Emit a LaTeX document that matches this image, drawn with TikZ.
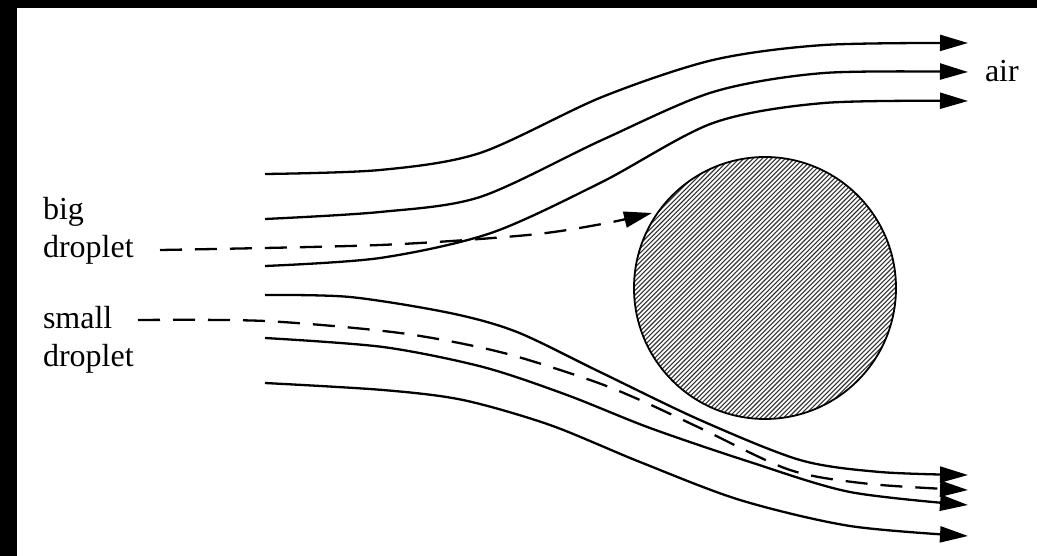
\documentclass[tikz,border=0pt]{standalone}
\usepackage{fontspec}
\setmainfont{Liberation Serif}
\usetikzlibrary{arrows.meta}
\begin{document}
\begin{tikzpicture}[x=1pt,y=-1pt,
  stream/.style={line width=2.3pt, line join=round, -{Triangle[length=28pt,width=16pt]}},
  droppath/.style={stream, dash pattern=on 22pt off 13pt},
  hatch/.style={line width=1.1pt, black!80},
  lbl/.style={font=\fontsize{32}{38}\selectfont, inner sep=0pt, outer sep=0pt, align=left, anchor=north west},
  txt/.style={font=\fontsize{32}{38}\selectfont, inner sep=0pt, outer sep=0pt, anchor=base west}]
\useasboundingbox (0,0) rectangle (1037,556);
\fill[black] (0,0) rectangle (1037,556);
\fill[white] (17,8) rectangle (1037,556);

% obstacle (hatched cylinder)
\begin{scope}
  \clip (765,288) circle[radius=131];
  \foreach \k in {0,...,118} \draw[hatch] ({372+\k*4.6},420) -- ++(264,-264);
\end{scope}
\node[circle, draw, line width=1.8pt, minimum size=262pt, inner sep=0pt] (obstacle) at (765,288) {};

% labels
\node[lbl] (big) at (43,197) {big\\droplet};
\node[lbl] (small) at (43,306) {small\\droplet};
\node[txt] (air) at (985,82) {air};

% upper streamlines
\draw[stream] plot[smooth] coordinates {(265,174) (380,170) (480,153) (602,97) (713,60) (824,45) (968,43)};
\draw[stream] plot[smooth] coordinates {(265,219) (380,212) (480,197) (602,140) (713,92) (824,73) (968,72)};
\draw[stream] plot[smooth] coordinates {(265,266) (380,258) (491,233) (602,182) (713,123) (824,103) (968,101)};

% lower streamlines
\draw[stream] plot[smooth] coordinates {(265,295) (350,297) (450,313) (517,332) (600,372) (700,420) (800,460) (880,472) (968,475)};
\draw[stream] plot[smooth] coordinates {(265,338) (383,347) (483,367) (567,395) (650,428) (750,462) (850,492) (968,505)};
\draw[stream] plot[smooth] coordinates {(265,383) (383,390) (463,400) (550,425) (640,462) (740,500) (850,526) (968,536)};

% droplet paths
\draw[droppath] plot[smooth] coordinates {(160,250) (380,245) (528,235) (602,224) (652,213)};
\draw[droppath] plot[smooth] coordinates {(138,320) (265,321) (400,333) (500,352) (590,380) (640,400) (700,428) (790,470) (870,484) (968,490)};
\end{tikzpicture}
\end{document}
